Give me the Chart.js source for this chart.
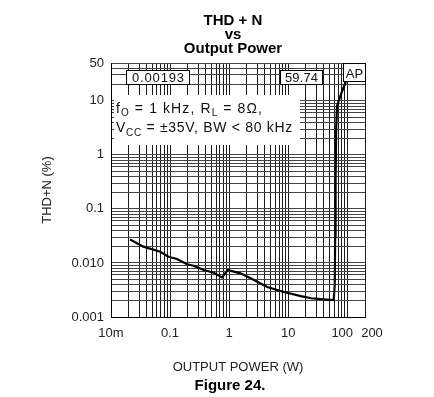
<!DOCTYPE html>
<html>
<head>
<meta charset="utf-8">
<script src="https://cdn.jsdelivr.net/npm/chart.js@4.4.1/dist/chart.umd.min.js"></script>
<style>
html,body{margin:0;padding:0;background:#fff;}
canvas{display:block;}
</style>
</head>
<body>
<canvas id="c" width="434" height="397" style="width:434px;height:397px"></canvas>
<script>
// ---- data ----
const titleLines = ['THD + N', 'vs', 'Output Power'];
const caption = 'Figure 24.';
const xTitle = 'OUTPUT POWER (W)';
const yTitle = 'THD+N (%)';
const xTickValues = [0.01, 0.1, 1, 10, 100, 200];
const xTickLabels = ['10m', '0.1', '1', '10', '100', '200'];
const yTickValues = [0.001, 0.01, 0.1, 1, 10, 50];
const yTickLabels = ['0.001', '0.010', '0.1', '1', '10', '50'];
const power = [0.021, 0.0354, 0.068, 0.094, 0.131, 0.194, 0.251, 0.371, 0.55, 0.76, 0.95, 1.2, 1.56, 2.31, 4.44, 8.5, 16.4, 24.6, 45, 59, 61.5, 62.5, 63.5, 65, 67.2, 78.5, 94.5];
const thd   = [0.0272, 0.0200, 0.0161, 0.0130, 0.0118, 0.00944, 0.00889, 0.0074, 0.0066, 0.0054, 0.0074, 0.0069, 0.00643, 0.0052, 0.0036, 0.0029, 0.00244, 0.00222, 0.0021, 0.00205, 0.004, 0.03, 0.3, 3, 8.0, 13.3, 22.5];
const readoutMin = '0.00193';
const readoutMax = '59.74';
const apLabel = 'AP';
const condLine1 = [{t:'f'}, {t:'O', sub:true}, {t:' = 1 kHz, R'}, {t:'L', sub:true}, {t:' = 8\u03A9,'}];
const condLine2 = [{t:'V'}, {t:'CC', sub:true}, {t:' = \u00B135V, BW < 80 kHz'}];
// label nudges (px) for crowded x labels
const xLabelNudge = {'100': -5, '200': 7};

// grid positions (log decades with 1..9 subdivisions)
function logGrid(minExp, maxExp, maxVal) {
  const out = [];
  for (let d = minExp; d <= maxExp; d++) {
    for (let m = 1; m <= 9; m++) {
      const v = Number((m * Math.pow(10, d)).toPrecision(6));
      if (v <= maxVal) out.push(v);
    }
  }
  return out;
}
const xGrid = logGrid(-2, 2, 200);
const yGrid = logGrid(-3, 1, 50);

function labelFor(v, vals, labels) {
  for (let i = 0; i < vals.length; i++) {
    if (Math.abs(Math.log10(v) - Math.log10(vals[i])) < 1e-6) return labels[i];
  }
  return '';
}

const FONT = '"Liberation Sans", Arial, Helvetica, sans-serif';

function drawParts(ctx, parts, x, y, target, size, subSize) {
  let natural = 0, n = 0;
  ctx.letterSpacing = '0px';
  parts.forEach(p => {
    ctx.font = (p.sub ? subSize : size) + 'px ' + FONT;
    natural += ctx.measureText(p.t).width;
    n += [...p.t].length;
  });
  const sp = (target - natural) / Math.max(1, n);
  parts.forEach(p => {
    ctx.font = (p.sub ? subSize : size) + 'px ' + FONT;
    const w = ctx.measureText(p.t).width;
    const yy = y + (p.sub ? 3.5 : 0);
    if ('letterSpacing' in ctx) {
      ctx.letterSpacing = sp + 'px';
      ctx.fillText(p.t, x, yy);
      ctx.letterSpacing = '0px';
    } else {
      let cx = x;
      for (const ch of p.t) { ctx.fillText(ch, cx, yy); cx += ctx.measureText(ch).width + sp; }
    }
    x += w + sp * [...p.t].length;
  });
}

function boxText(ctx, text, x, y, w, h, baseline, textWidth, size) {
  ctx.fillStyle = '#fff';
  ctx.fillRect(x, y, w, h);
  ctx.strokeStyle = '#000';
  ctx.lineWidth = 1;
  ctx.strokeRect(x + 0.5, y + 0.5, w, h);
  ctx.fillStyle = '#111';
  ctx.font = size + 'px ' + FONT;
  ctx.letterSpacing = '0px';
  ctx.textAlign = 'left';
  ctx.textBaseline = 'alphabetic';
  const nat = ctx.measureText(text).width;
  const n = [...text].length;
  const sp = Math.max(0, (textWidth - nat) / Math.max(1, n - 1));
  const startX = x + (w - (nat + sp * (n - 1))) / 2 + 0.5;
  drawParts(ctx, [{t: text}], startX, baseline, nat + sp * n, size, 9);
}

const overlay = {
  id: 'overlay',
  beforeDraw(chart) {
    const sx = chart.scales.x;
    const items = sx.getLabelItems(chart.chartArea);
    items.forEach(it => {
      const lbl = Array.isArray(it.label) ? it.label[0] : it.label;
      if (xLabelNudge[lbl] !== undefined && !it._nudged) {
        it.options.translation[0] += xLabelNudge[lbl];
        it._nudged = true;
      }
    });
  },
  beforeDatasetsDraw(chart) {
    const ctx = chart.ctx;
    ctx.save();
    // conditions text area
    ctx.fillStyle = '#fff';
    ctx.fillRect(114, 95, 186, 50);
    ctx.fillStyle = '#111';
    ctx.textAlign = 'left';
    ctx.textBaseline = 'alphabetic';
    drawParts(ctx, condLine1, 116, 112.5, 147, 14, 10);
    drawParts(ctx, condLine2, 116, 132, 177, 14, 10);
    // readout boxes
    boxText(ctx, readoutMin, 126, 70, 63, 14, 82, 52, 13);
    boxText(ctx, readoutMax, 280, 70, 42, 14, 82, 33, 13);
    boxText(ctx, apLabel, 343, 63, 22, 18, 78, 16, 13);
    ctx.restore();
  },
  afterDraw(chart) {
    const ctx = chart.ctx;
    ctx.save();
    ctx.letterSpacing = '0px';
    ctx.fillStyle = '#000';
    ctx.textAlign = 'center';
    ctx.textBaseline = 'alphabetic';
    ctx.font = 'bold 15px ' + FONT;
    const base = [25, 38.5, 52.5];
    titleLines.forEach((t, i) => ctx.fillText(t, 233, base[i]));
    ctx.fillText(caption, 230, 389.5);
    ctx.restore();
  }
};

const points = power.map((p, i) => ({x: p, y: thd[i]}));

new Chart(document.getElementById('c').getContext('2d'), {
  type: 'line',
  data: {
    datasets: [{
      data: points,
      borderColor: '#000',
      borderWidth: 2.2,
      pointRadius: 0,
      tension: 0,
      fill: false
    }]
  },
  options: {
    responsive: false,
    animation: false,
    devicePixelRatio: 1,
    layout: {padding: {top: 63, left: 0, right: 69, bottom: 0}},
    plugins: {legend: {display: false}, tooltip: {enabled: false}, title: {display: false}},
    scales: {
      x: {
        type: 'logarithmic',
        position: 'bottom',
        min: 0.01,
        max: 200,
        afterBuildTicks: s => { s.ticks = xGrid.map(v => ({value: v})); },
        afterFit: s => { s.height = 80; },
        ticks: {
          autoSkip: false, maxRotation: 0, minRotation: 0, padding: 9,
          color: '#222', font: {family: FONT, size: 13},
          callback: v => labelFor(v, xTickValues, xTickLabels)
        },
        grid: {color: '#1a1a1a', lineWidth: 1, drawTicks: false},
        border: {color: '#000', width: 1},
        title: {display: true, text: xTitle, color: '#222', font: {family: FONT, size: 13}, padding: {top: 0, bottom: 22}}
      },
      y: {
        type: 'logarithmic',
        position: 'left',
        min: 0.001,
        max: 50,
        afterBuildTicks: s => { s.ticks = yGrid.map(v => ({value: v})); },
        afterFit: s => { s.width = 111; },
        ticks: {
          autoSkip: false, padding: 7,
          color: '#222', font: {family: FONT, size: 13},
          callback: v => labelFor(v, yTickValues, yTickLabels)
        },
        grid: {color: '#444', lineWidth: 1, drawTicks: false},
        border: {color: '#000', width: 1},
        title: {display: true, text: yTitle, color: '#222', font: {family: FONT, size: 13}, padding: {top: 40, bottom: 0}}
      }
    }
  },
  plugins: [overlay]
});
</script>
</body>
</html>
